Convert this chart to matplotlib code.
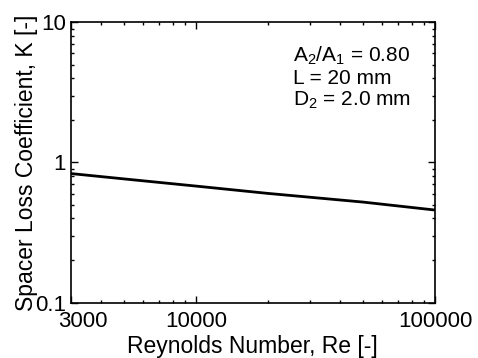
import matplotlib
matplotlib.use('Agg')
import matplotlib.pyplot as plt
import matplotlib.transforms as mtransforms
from matplotlib.ticker import LogLocator, NullFormatter, FixedLocator, FixedFormatter

plt.rcParams['font.family'] = ['Liberation Sans', 'DejaVu Sans']
plt.rcParams['mathtext.fontset'] = 'custom'
plt.rcParams['mathtext.rm'] = 'Liberation Sans'
plt.rcParams['mathtext.it'] = 'Liberation Sans'

# values
reynolds = [3000, 5000, 10000, 20000, 50000, 100000]
k_loss = [0.834, 0.764, 0.679, 0.602, 0.522, 0.458]

xticks = [3000, 10000, 100000]
xtick_labels = ['3000', '10000', '100000']
yticks = [0.1, 1, 10]
ytick_labels = ['0.1', '1', '10']

notes = [r'A$_2$/A$_1$ = 0.80', 'L = 20 mm', r'D$_2$ = 2.0 mm']

fig = plt.figure(figsize=(4.78, 3.58), dpi=100)
ax = fig.add_axes([0.148, 0.1545, 0.762, 0.7832])

ax.plot(reynolds, k_loss, color='black', lw=2.0)

ax.set_xscale('log')
ax.set_yscale('log')
ax.set_xlim(3000, 100000)
ax.set_ylim(0.1, 10)

ax.xaxis.set_major_locator(FixedLocator(xticks))
ax.xaxis.set_major_formatter(FixedFormatter(xtick_labels))
ax.xaxis.set_minor_locator(LogLocator(base=10, subs=range(2, 10)))
ax.xaxis.set_minor_formatter(NullFormatter())
ax.yaxis.set_major_locator(FixedLocator(yticks))
ax.yaxis.set_major_formatter(FixedFormatter(ytick_labels))
ax.yaxis.set_minor_locator(LogLocator(base=10, subs=range(2, 10)))
ax.yaxis.set_minor_formatter(NullFormatter())

ax.tick_params(which='both', direction='in', top=True, right=True, width=1)
ax.tick_params(which='major', length=5)
ax.tick_params(which='minor', length=2.4)
ax.tick_params(axis='x', which='major', labelsize=16, pad=6)
ax.tick_params(axis='y', which='major', labelsize=16, pad=3.4)
for s in ax.spines.values():
    s.set_linewidth(1.2)

# the 3000 label sits a bit right of its tick
offset = mtransforms.ScaledTranslation(12 / 100, 0, fig.dpi_scale_trans)
fig.canvas.draw()
ax.get_xticklabels()[0].set_transform(ax.get_xticklabels()[0].get_transform() + offset)

ax.set_xlabel('Reynolds Number, Re [-]', fontsize=16.5, labelpad=2)
ax.set_ylabel('Spacer Loss Coefficient, K [-]', fontsize=16.5, labelpad=-2)

ypos = [0.860, 0.780, 0.702]
for txt, yp in zip(notes, ypos):
    ax.text(0.61, yp, txt, transform=ax.transAxes, fontsize=15, va='baseline', ha='left')

fig.savefig('out.png', dpi=100)
